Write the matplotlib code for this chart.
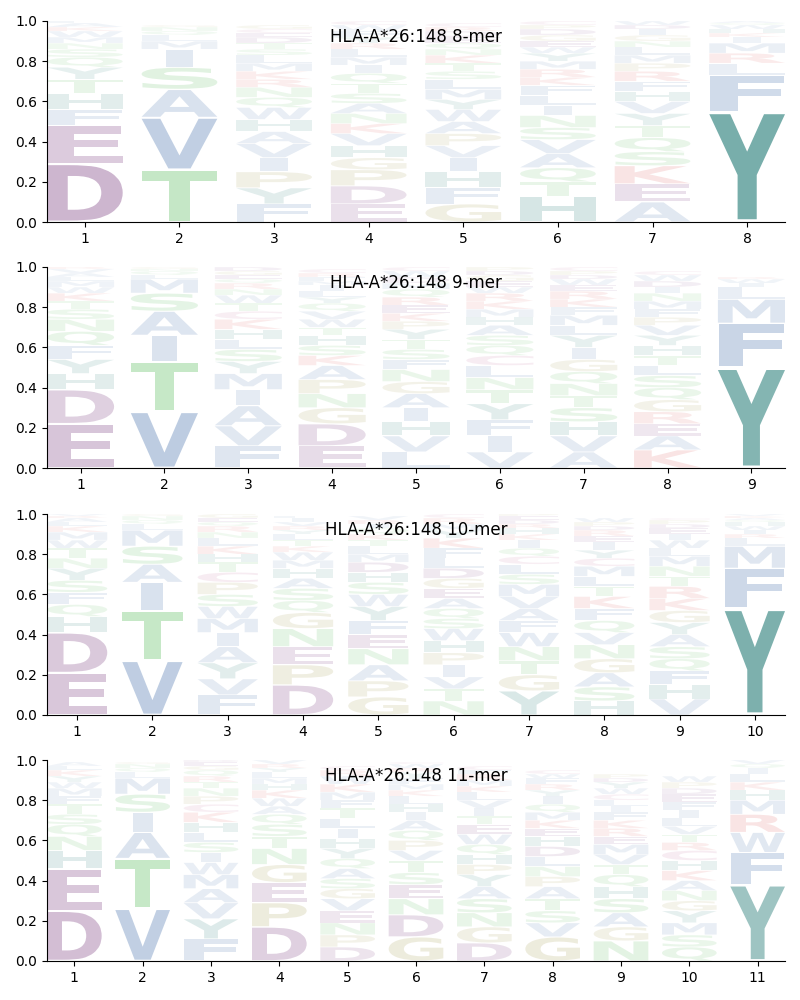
import matplotlib
matplotlib.use("Agg")
import matplotlib.pyplot as plt
from matplotlib.textpath import TextPath
from matplotlib.patches import PathPatch
from matplotlib.font_manager import FontProperties
from matplotlib.transforms import Affine2D

allele = "HLA-A*26:148"

# Letter probabilities per position
mer8 = [
    dict(D=.29, E=.19, F=.08, H=.08, T=.07, Y=.06, Q=.05, S=.04, N=.03, M=.03, W=.03, K=.02, A=.02, L=.01),
    dict(T=.26, V=.26, A=.14, S=.11, I=.09, M=.04, L=.03, Q=.02, N=.02, G=.01),
    dict(F=.09, Y=.08, P=.08, I=.07, V=.07, A=.06, H=.06, W=.06, Q=.05, N=.05, R=.04, K=.04, M=.04, L=.04, S=.03, T=.03, D=.03, E=.02, C=.02, G=.02),
    dict(E=.09, D=.09, P=.08, G=.06, H=.06, V=.06, K=.05, N=.05, A=.05, S=.05, T=.05, Q=.05, I=.04, M=.04, L=.04, R=.03, Y=.03, F=.03, W=.03, C=.02),
    dict(G=.09, F=.08, H=.08, I=.07, V=.06, P=.06, A=.06, W=.06, Y=.05, M=.05, L=.05, S=.04, T=.04, K=.04, N=.03, Q=.03, E=.03, D=.03, R=.02, C=.02),
    dict(H=.13, T=.07, Q=.07, A=.07, V=.07, S=.06, N=.06, I=.05, L=.05, F=.05, K=.04, R=.04, M=.04, Y=.04, W=.03, E=.03, G=.03, D=.03, P=.02, C=.02),
    dict(A=.10, E=.09, K=.09, S=.07, Q=.07, T=.06, Y=.06, V=.06, H=.05, F=.05, R=.05, P=.04, M=.04, L=.04, N=.03, G=.03, I=.03, D=.02, W=.02),
    dict(Y=.55, F=.18, L=.06, R=.05, M=.05, I=.03, K=.02, H=.02, W=.02, Q=.01, A=.01),
]

mer9 = [
    dict(E=.22, D=.17, H=.08, Y=.07, F=.07, Q=.07, N=.06, S=.05, T=.04, K=.04, W=.03, M=.03, L=.02, A=.02, V=.02, R=.01),
    dict(V=.28, T=.25, I=.13, A=.12, S=.09, M=.07, L=.02, Q=.02, N=.01, G=.01),
    dict(F=.11, V=.10, A=.10, I=.08, M=.08, Y=.06, S=.06, L=.05, H=.05, K=.05, C=.04, T=.04, W=.04, N=.03, R=.03, Q=.02, E=.02, G=.02, D=.02, P=.02),
    dict(E=.11, D=.11, G=.08, N=.07, P=.07, A=.07, K=.05, S=.05, H=.05, T=.04, W=.04, V=.04, Q=.04, Y=.03, L=.03, I=.03, M=.02, F=.02, R=.02, C=.02),
    dict(L=.08, V=.08, H=.07, I=.07, A=.07, G=.06, N=.06, F=.05, S=.05, T=.05, Y=.05, P=.04, K=.04, E=.04, R=.04, Q=.04, M=.03, D=.03, W=.03, C=.02),
    dict(V=.08, I=.08, F=.08, Y=.08, T=.07, N=.06, L=.06, C=.05, Q=.05, S=.05, A=.05, H=.04, M=.04, K=.04, R=.04, W=.03, E=.03, G=.03, D=.02, P=.02),
    dict(A=.08, V=.08, H=.07, S=.07, T=.06, N=.06, Q=.06, G=.06, I=.06, Y=.06, L=.05, M=.05, F=.04, K=.04, R=.04, E=.03, W=.03, D=.02, P=.02, C=.02),
    dict(K=.09, A=.07, E=.06, R=.06, G=.06, Q=.06, S=.06, L=.05, T=.05, H=.05, Y=.05, V=.05, P=.04, F=.04, M=.04, N=.04, I=.03, D=.03, W=.03, C=.02),
    dict(Y=.50, F=.22, M=.12, L=.06, I=.02, W=.02, R=.01),
]

mer10 = [
    dict(E=.21, D=.20, H=.08, Q=.06, F=.06, S=.06, Y=.06, N=.05, T=.05, W=.04, M=.04, K=.03, L=.02, A=.02, R=.01, V=.01),
    dict(V=.27, T=.25, I=.14, A=.09, S=.09, M=.08, L=.03, Q=.02, N=.02, G=.01),
    dict(F=.10, V=.08, Y=.08, A=.08, I=.07, M=.07, W=.06, S=.06, P=.06, C=.05, T=.05, H=.04, K=.04, L=.04, N=.03, R=.03, Q=.02, E=.02, G=.02),
    dict(D=.15, P=.10, E=.09, N=.09, G=.08, Q=.06, S=.06, A=.05, H=.05, M=.04, W=.04, K=.03, T=.03, L=.03, Y=.02, R=.02, V=.02, I=.02, F=.01),
    dict(G=.09, P=.08, A=.08, N=.08, E=.07, F=.07, Y=.07, W=.06, S=.06, H=.05, D=.05, M=.04, L=.04, T=.03, K=.03, Q=.03, I=.02, R=.02, V=.02),
    dict(N=.07, T=.06, V=.06, I=.06, P=.06, H=.06, W=.06, S=.05, Q=.05, A=.05, E=.05, G=.05, D=.05, L=.05, F=.05, K=.05, Y=.04, M=.03, R=.03, C=.02),
    dict(Y=.12, G=.08, T=.07, N=.07, W=.07, F=.06, A=.06, V=.06, M=.06, S=.05, L=.05, C=.04, Q=.04, I=.04, K=.03, H=.03, R=.02, D=.02, E=.02, P=.01),
    dict(H=.07, S=.07, A=.07, G=.07, N=.07, V=.06, Q=.06, F=.06, K=.06, T=.05, L=.05, M=.05, C=.04, Y=.04, I=.04, E=.03, R=.03, D=.02, P=.02, W=.02),
    dict(V=.08, H=.07, F=.07, Q=.06, S=.06, A=.06, Y=.06, G=.06, K=.06, R=.06, T=.05, N=.05, M=.05, L=.04, W=.04, I=.03, E=.03, D=.02, P=.02, C=.01),
    dict(Y=.53, F=.20, M=.11, L=.04, R=.02, I=.02, W=.02, H=.02, Q=.01, A=.01, K=.01, V=.01),
]

mer11 = [
    dict(D=.25, E=.21, H=.09, N=.07, Q=.06, S=.05, T=.05, F=.04, M=.04, W=.03, Y=.03, K=.03, L=.02, A=.02),
    dict(V=.26, T=.25, A=.13, I=.10, S=.09, M=.08, L=.03, Q=.02, N=.02, G=.01),
    dict(F=.11, Y=.10, V=.08, A=.07, M=.07, W=.06, I=.05, S=.05, L=.05, H=.05, K=.05, C=.04, P=.04, N=.04, T=.03, R=.03, Q=.03, G=.02, E=.02, D=.01),
    dict(D=.17, P=.12, E=.10, G=.09, N=.08, T=.06, S=.06, Q=.05, A=.04, W=.04, K=.04, H=.03, M=.03, L=.03, Y=.02, R=.02, V=.02, F=.01),
    dict(D=.07, P=.06, N=.06, E=.06, V=.06, G=.05, S=.05, A=.05, Q=.05, Y=.05, H=.05, I=.05, L=.05, T=.05, F=.04, M=.04, K=.04, W=.04, R=.03, C=.02),
    dict(G=.12, D=.11, N=.08, E=.07, S=.06, T=.06, V=.05, P=.05, Q=.05, A=.05, I=.04, H=.04, L=.04, K=.03, M=.03, F=.03, Y=.03, R=.02, W=.02, C=.01),
    dict(D=.09, G=.08, N=.07, S=.07, A=.06, Y=.06, P=.05, H=.05, Q=.05, W=.05, E=.05, T=.04, I=.04, V=.04, L=.04, K=.03, M=.03, R=.03, F=.02, C=.02),
    dict(G=.12, V=.07, S=.06, T=.06, A=.06, P=.05, N=.05, L=.05, D=.05, H=.05, E=.04, K=.04, M=.04, Q=.04, I=.04, Y=.03, R=.03, F=.03, W=.02, C=.02),
    dict(N=.10, G=.07, A=.07, S=.07, H=.06, Q=.06, T=.05, V=.05, M=.05, E=.04, R=.04, K=.04, F=.04, I=.03, L=.03, C=.03, W=.03, Y=.03, D=.02, P=.02),
    dict(Q=.07, S=.06, M=.06, Y=.06, G=.05, N=.05, A=.05, K=.05, H=.05, C=.05, R=.04, T=.04, V=.04, L=.04, I=.04, F=.04, E=.04, D=.03, P=.03, W=.03),
    dict(Y=.38, F=.16, W=.10, R=.09, M=.07, H=.05, K=.04, L=.04, I=.03, Q=.02, V=.02),
]

panels = [("8-mer", mer8), ("9-mer", mer9), ("10-mer", mer10), ("11-mer", mer11)]

# colour scheme by residue chemistry
purple = (0.43, 0.16, 0.45)
green = (0.27, 0.70, 0.28)
blue = (0.22, 0.40, 0.65)
teal = (0.12, 0.47, 0.45)
red = (0.85, 0.25, 0.25)
olive = (0.60, 0.56, 0.22)
pink = (0.70, 0.30, 0.50)
colors = {}
for a in "DE": colors[a] = purple
for a in "STNQ": colors[a] = green
for a in "AVILMFW": colors[a] = blue
for a in "YH": colors[a] = teal
for a in "KR": colors[a] = red
for a in "GP": colors[a] = olive
colors["C"] = pink

fp = FontProperties(family="DejaVu Sans", weight="bold")
glyphs = {}


def glyph(ch):
    if ch not in glyphs:
        glyphs[ch] = TextPath((0, 0), ch, size=1, prop=fp)
    return glyphs[ch]


E_WIDTH = glyph("E").get_extents().width


def draw_letter(ax, ch, xc, y0, h, width=0.8, vpad=0.05):
    path = glyph(ch)
    ext = path.get_extents()
    hh = h * (1 - vpad)
    yb = y0 + h * vpad / 2
    sx = min(width / ext.width, width / E_WIDTH)
    w = ext.width * sx
    tr = (Affine2D().translate(-ext.x0, -ext.y0)
          .scale(sx, hh / ext.height)
          .translate(xc - w / 2, yb))
    p = tr.transform_path(path)
    alpha = min(1.0, h + 0.05)
    ax.add_patch(PathPatch(p, facecolor=colors[ch], edgecolor="none",
                           alpha=alpha, zorder=2))


fig = plt.figure(figsize=(8, 10), dpi=100)
tops = [21, 267, 514, 760]
for (name, data), top in zip(panels, tops):
    ax = fig.add_axes([47 / 800, 1 - (top + 201) / 1000, 738 / 800, 201 / 1000])
    n = len(data)
    for i, col in enumerate(data, start=1):
        items = sorted(col.items(), key=lambda kv: -kv[1])
        y = 0.0
        for ch, v in items:
            draw_letter(ax, ch, i, y, v)
            y += v
    ax.set_xlim(0.6, n + 0.4)
    ax.set_ylim(0, 1)
    ax.set_xticks(range(1, n + 1))
    ax.set_yticks([0, 0.2, 0.4, 0.6, 0.8, 1.0])
    ax.spines["top"].set_visible(False)
    ax.spines["right"].set_visible(False)
    ax.text(0.5, 0.922, f"{allele} {name}", transform=ax.transAxes,
            ha="center", va="center", fontsize=12, zorder=5)

fig.savefig("out.png", dpi=100)
